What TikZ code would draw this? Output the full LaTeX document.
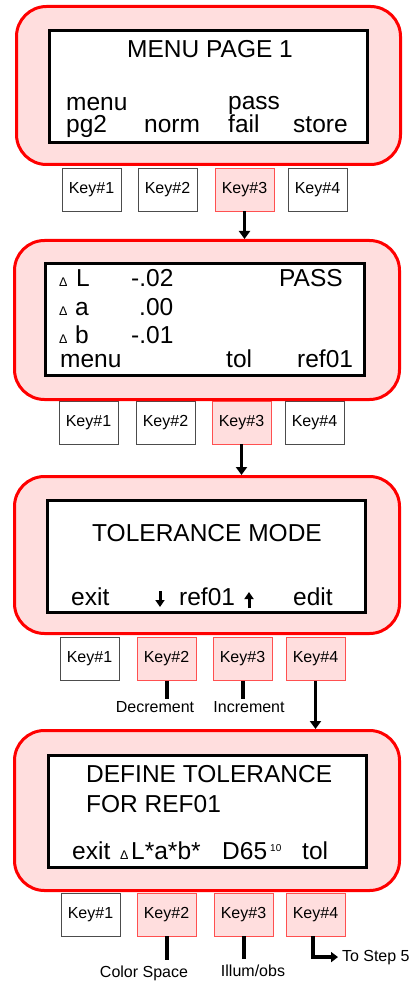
\documentclass[tikz,border=0pt]{standalone}
\usepackage{fontspec}
\setmainfont{Liberation Sans}
\usetikzlibrary{arrows.meta}
\definecolor{pinkfill}{HTML}{FFDEDE}
\definecolor{keyred}{HTML}{FF5050}
\begin{document}
\begin{tikzpicture}[x=1pt,y=-1pt,
 panel/.style={draw=red,line width=3pt,fill=pinkfill,rounded corners=30pt,inner sep=0},
 screen/.style={draw=black,line width=3pt,fill=white,inner sep=0},
 key/.style={draw=black!70,line width=0.8pt,fill=white,minimum width=59pt,minimum height=43pt,inner sep=0,font=\fontsize{16}{16}\selectfont},
 keyon/.style={key,draw=keyred,fill=pinkfill},
 big/.style={font=\fontsize{24.5}{24.5}\selectfont,anchor=base west,inner sep=0},
 two/.style={font=\fontsize{24.5}{22}\selectfont,align=left,anchor=base west,inner sep=0},
 sup/.style={font=\fontsize{10}{10}\selectfont,anchor=base west,inner sep=0},
 dlt/.style={font=\fontsize{12.5}{12.5}\selectfont,anchor=base west,inner sep=0},
 lbl/.style={font=\fontsize{16}{16}\selectfont,anchor=base,inner sep=0,outer sep=2pt},
 flow/.style={line width=3.5pt,-{Triangle[length=8pt,width=11pt]}},
 glyph/.style={line width=3pt,-{Triangle[length=7pt,width=9pt]}},
 stub/.style={line width=4pt}]
\useasboundingbox (0,0) rectangle (414,981);

% ---------- Keys (drawn first so panels overlap their tops)
\node[key]   (k11) at (91.5,189.5) {Key\#1};
\node[key]   (k12) at (167.5,189.5) {Key\#2};
\node[keyon] (k13) at (244.5,189.5) {Key\#3};
\node[key]   (k14) at (317.5,189.5) {Key\#4};

\node[key]   (k21) at (88.5,422.5) {Key\#1};
\node[key]   (k22) at (165.5,422.5) {Key\#2};
\node[keyon] (k23) at (241.5,422.5) {Key\#3};
\node[key]   (k24) at (314.5,422.5) {Key\#4};

\node[key]   (k31) at (89.5,659) {Key\#1};
\node[keyon] (k32) at (166.5,659) {Key\#2};
\node[keyon] (k33) at (242.5,659) {Key\#3};
\node[keyon] (k34) at (315.5,659) {Key\#4};

\node[key]   (k41) at (90.5,914.5) {Key\#1};
\node[keyon] (k42) at (166.5,914.5) {Key\#2};
\node[keyon] (k43) at (243.5,914.5) {Key\#3};
\node[keyon] (k44) at (315.5,914.5) {Key\#4};

% ---------- Panels and screens
\node[panel,minimum width=384pt,minimum height=158pt] (p1) at (208.5,85.5) {};
\node[screen,minimum width=318pt,minimum height=112pt] (s1) at (208.5,86.5) {};
\node[panel,minimum width=385pt,minimum height=159pt] (p2) at (207,320) {};
\node[screen,minimum width=319pt,minimum height=112pt] (s2) at (205,319.5) {};
\node[panel,minimum width=385pt,minimum height=157pt] (p3) at (207,555) {};
\node[screen,minimum width=318pt,minimum height=112pt] (s3) at (206.5,556.5) {};
\node[panel,minimum width=385pt,minimum height=160pt] (p4) at (207,810.5) {};
\node[screen,minimum width=318pt,minimum height=112pt] (s4) at (207.5,811.5) {};

% ---------- Screen 1
\node[big] (t1a) at (127,58) {MENU PAGE 1};
\node[two] (t1b) at (66,133) {menu\\pg2};
\node[big] (t1d) at (144,133) {norm};
\node[two] (t1e) at (228,133) {pass\\fail};
\node[big] (t1g) at (293,133) {store};

% ---------- Screen 2
\node[dlt] (d2a) at (59,287) {Δ};
\node[big] (t2a) at (76,287) {L};
\node[big] (t2b) at (131,287) {-.02};
\node[big] (t2c) at (279,287) {PASS};
\node[dlt] (d2b) at (59,315) {Δ};
\node[big] (t2d) at (75,315) {a};
\node[big] (t2e) at (139,315) {.00};
\node[dlt] (d2c) at (59,343) {Δ};
\node[big] (t2f) at (75,343) {b};
\node[big] (t2g) at (131,343) {-.01};
\node[big] (t2h) at (60,367) {menu};
\node[big] (t2i) at (226,367) {tol};
\node[big] (t2j) at (297,367) {ref01};

% ---------- Screen 3
\node[big] (t3a) at (92,541) {TOLERANCE MODE};
\node[big] (t3b) at (71,605) {exit};
\node[big] (t3c) at (179,605) {ref01};
\node[big] (t3d) at (293,605) {edit};
\coordinate (dnA) at (160,591);
\coordinate (dnB) at (160,607);
\coordinate (upA) at (249,608);
\coordinate (upB) at (249,592);
\draw[glyph] (dnA) -- (dnB);
\draw[glyph] (upA) -- (upB);

% ---------- Screen 4
\node[big] (t4a) at (86,782) {DEFINE TOLERANCE};
\node[big] (t4b) at (86,812) {FOR REF01};
\node[big] (t4c) at (72,859) {exit};
\node[dlt] (d4a) at (120,859) {Δ};
\node[big] (t4d) at (131,859) {L*a*b*};
\node[big] (t4e) at (222,859) {D65};
\node[sup] (t4f) at (270,851) {10};
\node[big] (t4g) at (302,859) {tol};

% ---------- Labels below keys
\node[lbl] (dec) at (155,712) {Decrement};
\node[lbl] (inc) at (249,712) {Increment};
\node[lbl,outer sep=5pt] (csp) at (144,977) {Color Space};
\node[lbl,outer sep=5pt] (ill) at (253,976) {Illum/obs};
\node[lbl,anchor=base west,outer sep=4pt] (step) at (338,961) {To Step 5};

% ---------- Connectors
\draw[flow] (k13.south) -- (k13.south |- p2.north);
\draw[flow] (k23.south) -- (k23.south |- p3.north);
\draw[flow] (k34.south) -- (k34.south |- p4.north);
\draw[stub] (k32.south) -- (k32.south |- dec.north);
\draw[stub] (k33.south) -- (k33.south |- inc.north);
\draw[stub] (k42.south) -- (k42.south |- csp.north);
\draw[stub] (k43.south) -- (k43.south |- ill.north);
\draw[line width=3.5pt,-{Triangle[length=7pt,width=10pt]}] ([xshift=-2.5pt]k44.south) |- (step.west);
\end{tikzpicture}
\end{document}
